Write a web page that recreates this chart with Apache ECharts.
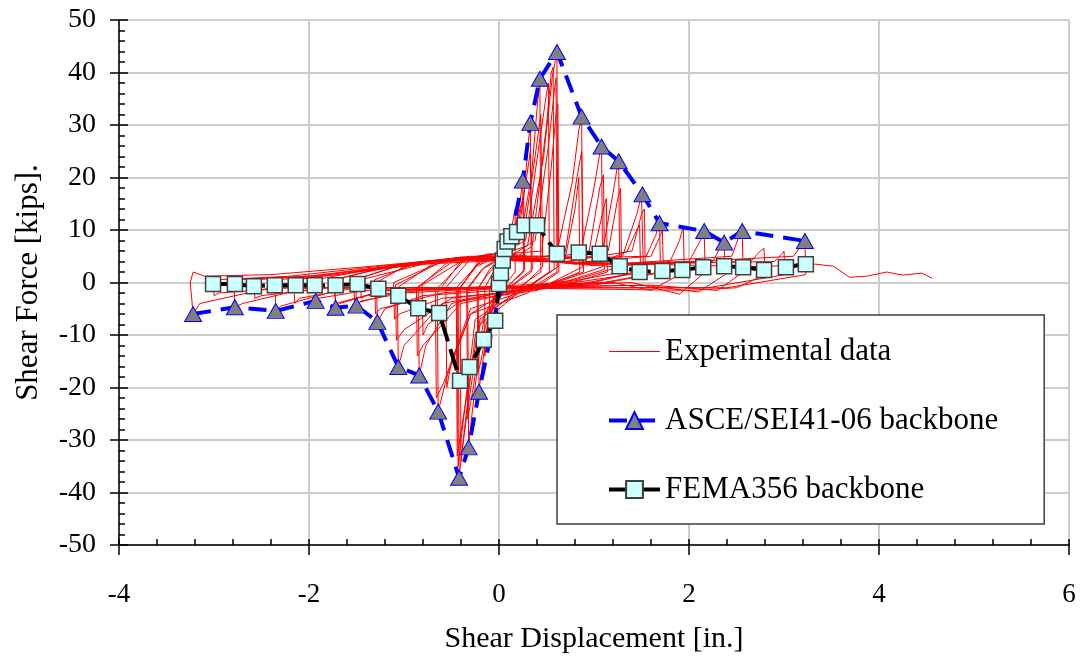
<!DOCTYPE html>
<html>
<head>
<meta charset="utf-8">
<title>Shear force vs shear displacement</title>
<script src="https://cdn.jsdelivr.net/npm/echarts/dist/echarts.min.js"></script>
<style>
html, body { margin: 0; padding: 0; background: #fff; }
#chart { width: 1082px; height: 659px; }
</style>
</head>
<body>
<div id="chart"></div>
<script>
// x ticks / y ticks
var xTicks = [-4, -2, 0, 2, 4, 6];
var yTicks = [-50, -40, -30, -20, -10, 0, 10, 20, 30, 40, 50];

// ASCE/SEI41-06 backbone (triangles)
var asceX = [-3.22, -2.78, -2.35, -1.93, -1.72, -1.50, -1.28, -1.06, -0.84, -0.64, -0.42, -0.32, -0.21,
	0.25, 0.33, 0.43, 0.61, 0.87, 1.08, 1.26, 1.51, 1.69, 2.16, 2.37, 2.56, 3.22];
var asceY = [-6.0, -4.7, -5.4, -3.5, -4.8, -4.4, -7.5, -16.1, -17.7, -24.6, -37.2, -31.4, -20.8,
	19.4, 30.4, 38.8, 43.9, 31.6, 25.9, 23.1, 16.8, 11.3, 9.8, 7.6, 9.8, 7.9];

// FEMA356 backbone (squares)
var femaX = [-3.01, -2.78, -2.58, -2.36, -2.14, -1.94, -1.72, -1.49, -1.27, -1.06, -0.85, -0.63, -0.41, -0.31, -0.16, -0.04,
	0.0, 0.02, 0.04, 0.06, 0.09, 0.13, 0.19, 0.27, 0.40, 0.61, 0.84, 1.06, 1.27, 1.48, 1.72, 1.93, 2.15, 2.37, 2.57, 2.79, 3.02, 3.23];
var femaY = [-0.3, -0.3, -0.7, -0.5, -0.5, -0.5, -0.5, -0.3, -1.2, -2.5, -4.9, -5.8, -18.7, -16.1, -10.9, -7.3,
	-0.3, 1.8, 4.2, 6.4, 7.8, 8.8, 9.6, 10.9, 10.9, 5.5, 5.7, 5.5, 3.1, 2.0, 2.2, 2.4, 2.9, 3.1, 2.9, 2.4, 2.9, 3.5];

// experimental hysteresis, one line per cycle
var experimental = [
	[0, 0], [0.04, 3], [0.08, 6], [0.1, 8], [0.1, 1.5], [0.03, -0.5], [-0.04, -2.5], [-0.08, -6], [-0.1, -9], [-0.1, -1], [-0.04, 1.5], [0.02, 3],
	[0.08, 6], [0.14, 11], [0.17, 14], [0.17, 2], [0.06, -0.5], [-0.06, -4], [-0.12, -10], [-0.15, -14], [-0.15, -1], [-0.06, 2], [0.03, 3.5],
	[0.12, 7], [0.2, 13], [0.24, 18], [0.25, 19.4], [0.26, 2], [0.1, -0.5], [-0.05, -3], [-0.14, -11], [-0.2, -19], [-0.21, -20.8], [-0.22, -1], [-0.1, 2], [0.02, 4],
	[0.14, 8], [0.22, 14], [0.26, 16.5], [0.27, 2.5], [0.08, -1], [-0.1, -6], [-0.19, -15], [-0.22, -17], [-0.23, -1.5], [-0.1, 2.5], [0.03, 4.5],
	[0.17, 8], [0.27, 18], [0.31, 27], [0.33, 30.4], [0.34, 2], [0.15, -0.5], [-0.05, -2.5], [-0.2, -12], [-0.29, -26], [-0.32, -31.4], [-0.33, -1], [-0.18, 2.5], [0.02, 4.5],
	[0.2, 9], [0.29, 20], [0.33, 25], [0.35, 2.5], [0.1, -1], [-0.15, -6], [-0.28, -21], [-0.33, -26], [-0.34, -1.5], [-0.15, 3], [0.04, 5],
	[0.22, 8], [0.34, 20], [0.4, 33], [0.43, 38.8], [0.44, 2], [0.2, -1], [-0.05, -2.5], [-0.25, -10], [-0.37, -29], [-0.42, -37.2], [-0.43, -1.5], [-0.25, 3], [0, 5],
	[0.26, 9], [0.38, 24], [0.44, 32], [0.46, 3], [0.2, -1.5], [-0.2, -7], [-0.37, -25], [-0.44, -33], [-0.45, -1], [-0.22, 3.5], [0.02, 5.5],
	[0.28, 8], [0.42, 26], [0.5, 36], [0.52, 38], [0.53, 2], [0.2, -2], [-0.2, -8], [-0.36, -28], [-0.4, -34], [-0.41, -1], [-0.2, 4], [0.05, 5.5],
	[0.3, 7], [0.47, 24], [0.56, 39], [0.61, 43.9], [0.62, 3], [0.3, -1], [0, -2.5], [-0.3, -6], [-0.55, -18], [-0.64, -24.6], [-0.65, -2], [-0.4, 4], [-0.1, 5.5], [0.12, 5],
	[0.38, 8], [0.52, 26], [0.58, 36], [0.6, 39], [0.61, 2], [0.3, -1.5], [-0.3, -5], [-0.58, -19], [-0.66, -22], [-0.67, -1.5], [-0.35, 4.5], [0, 5.5], [0.2, 5],
	[0.35, 7], [0.5, 30], [0.55, 40], [0.57, 41], [0.58, 2.5], [0.25, -1.5], [-0.25, -7], [-0.4, -30], [-0.43, -35], [-0.44, -2], [-0.2, 4.5], [0.1, 5.5],
	[0.45, 6], [0.55, 22], [0.6, 32], [0.62, 34], [0.63, 2], [0.3, -2], [-0.3, -6], [-0.5, -15], [-0.55, -20], [-0.56, -1], [-0.3, 4.5], [0.1, 5],
	[0.6, 5], [0.77, 19], [0.84, 29], [0.87, 31.6], [0.88, 3], [0.5, -0.5], [0, -2], [-0.5, -4], [-0.77, -12], [-0.84, -17.7], [-0.85, -1], [-0.5, 4.5], [0, 5.5], [0.4, 4.5],
	[0.7, 6], [0.82, 20], [0.87, 25], [0.89, 2], [0.4, -1], [-0.4, -4], [-0.8, -12], [-0.86, -14], [-0.87, -1], [-0.45, 4.5], [0.1, 5.5], [0.5, 4.5],
	[0.7, 5], [0.8, 14], [0.84, 20], [0.85, 2], [0.4, -1.5], [-0.4, -3.5], [-0.75, -8], [-0.8, -10], [-0.81, -0.5], [-0.4, 4], [0.2, 5],
	[0.85, 5], [1.0, 18], [1.06, 24.5], [1.08, 25.9], [1.09, 3], [0.6, 0], [0, -2], [-0.6, -4], [-1.0, -12], [-1.06, -16.1], [-1.07, -1], [-0.7, 3.5], [-0.2, 5], [0.5, 4.5],
	[0.95, 6], [1.06, 18], [1.1, 20.5], [1.11, 2.5], [0.5, -1], [-0.5, -3], [-1.0, -9], [-1.08, -11], [-1.09, -0.5], [-0.6, 4], [0, 5], [0.6, 4],
	[1.0, 6], [1.1, 14], [1.13, 16], [1.14, 2], [0.6, -1], [-0.6, -3], [-1.05, -6], [-1.1, -7], [-1.11, 0], [-0.6, 4], [0.3, 4.5],
	[1.08, 5], [1.2, 17], [1.25, 22.5], [1.26, 23.1], [1.27, 3], [0.8, 0.5], [0, -1.5], [-0.8, -2.5], [-1.2, -5], [-1.28, -7.5], [-1.29, 0], [-1.0, 3], [-0.4, 4.8], [0.6, 4.2],
	[1.15, 6], [1.25, 16], [1.28, 18], [1.29, 2], [0.7, 0], [-0.6, -2], [-1.25, -5], [-1.3, -6], [-1.31, 0.5], [-0.9, 3.5], [0, 5], [0.8, 3.5],
	[1.3, 5], [1.45, 13], [1.5, 16.5], [1.51, 16.8], [1.52, 2.5], [1.0, 0], [0, -1], [-1.0, -2], [-1.45, -3.5], [-1.5, -4.4], [-1.51, 0.5], [-1.1, 3], [-0.4, 4.8], [0.7, 4],
	[1.4, 6], [1.5, 13], [1.53, 14], [1.54, 2], [0.8, 0], [-1.0, -1.5], [-1.52, -4], [-1.53, 0.5], [-1.0, 3.5], [0, 5], [1.0, 3.2],
	[1.35, 6], [1.45, 10], [1.48, 11], [1.49, 2], [0.8, -0.5], [-0.8, -1.5], [-1.4, -2.5], [-1.45, -3], [-1.46, 0.5], [-0.8, 3.5], [0.4, 4.5],
	[1.55, 5], [1.65, 9], [1.69, 11.3], [1.7, 2], [1.1, 0], [0, -1], [-1.2, -1.5], [-1.68, -4], [-1.72, -4.8], [-1.73, 0.5], [-1.4, 2], [-0.9, 3.8], [-0.3, 5], [0.8, 3.8],
	[1.6, 5], [1.7, 9], [1.72, 10], [1.73, 2], [1.0, -0.5], [-1.2, -1.5], [-1.72, -4], [-1.74, 0.5], [-1.3, 2.5], [0, 5], [1.2, 3],
	[1.8, 4], [1.9, 8], [1.94, 10.7], [1.95, 2], [1.6, -1.5], [1.2, 0], [0, -1], [-1.4, -1.5], [-1.9, -3], [-1.93, -3.5], [-1.94, 0.5], [-1.5, 2], [-0.8, 4], [0, 5], [1, 3.5],
	[2.0, 4], [2.12, 8], [2.16, 9.8], [2.17, 2], [1.9, -2.2], [1.4, 0], [0, -1], [-1.5, -1], [-2.1, -3], [-2.15, -4], [-2.16, 0.5], [-1.6, 1.8], [-1.0, 3.5], [-0.4, 4.8], [1.1, 3.5],
	[2.25, 4], [2.34, 7], [2.37, 7.6], [2.38, 1.5], [2.1, -1.8], [1.5, -0.5], [0, -1], [-1.6, -1], [-2.3, -4.5], [-2.35, -5.4], [-2.36, 0.5], [-1.7, 1.5], [-1.0, 3.2], [-0.3, 4.8], [1.2, 3.5],
	[2.45, 5], [2.53, 9], [2.56, 9.8], [2.57, 2], [2.3, -1.5], [1.6, -0.5], [0, -1], [-1.8, -1], [-2.5, -2.5], [-2.57, -3], [-2.58, 0.5], [-1.8, 1.5], [-1.1, 3.2], [-0.4, 4.6], [1.3, 3.5],
	[2.65, 4], [2.75, 6], [2.79, 6.5], [2.8, 1.5], [2.5, -1], [2.0, -1.5], [0, -1], [-2.0, -1], [-2.7, -4], [-2.78, -4.7], [-2.79, 0.5], [-2.0, 1.2], [-1.2, 3], [-0.5, 4.5], [1.4, 3.5],
	[2.9, 4], [2.98, 5.5], [3.0, 6], [3.01, 1.5], [2.2, -1], [0, -1], [-2.2, -1], [-2.95, -2], [-3.0, -2.5], [-3.01, 0.5], [-2.2, 1.2], [-1.3, 3], [-0.5, 4.5], [1.5, 3.5],
	[3.1, 5], [3.2, 7.5], [3.22, 7.9], [3.23, 1.5], [2.4, -1], [0, -1], [-2.4, -1], [-3.15, -4], [-3.22, -6], [-3.25, 0], [-3.22, 2], [-3.1, 1.2], [-2.4, 1.5], [-1.4, 3], [-0.5, 4.5], [1.5, 3.5], [2.8, 3], [3.15, 3.5],
	[3.25, 3.2], [3.33, 3.5], [3.52, 3.1], [3.69, 1.0], [3.87, 1.2], [4.08, 2.0], [4.25, 1.4], [4.45, 1.8], [4.56, 0.8]
];

var serif = 'Liberation Serif';

var myChart = echarts.init(document.getElementById('chart'));

var option = {
	animation: false,
	backgroundColor: '#ffffff',
	grid: {
		left: 119,
		right: 13,
		top: 20,
		bottom: 113
	},
	legend: {
		orient: 'vertical',
		left: 557,
		top: 315,
		padding: [21, 46, 19, 50],
		itemGap: 38,
		itemWidth: 51,
		itemHeight: 21,
		backgroundColor: '#ffffff',
		borderColor: '#404040',
		borderWidth: 1.5,
		textStyle: {
			fontFamily: serif,
			fontSize: 31,
			color: '#000'
		},
		data: [
			{ name: 'Experimental data', icon: 'path://M0,0h60v1h-60z' },
			{ name: 'ASCE/SEI41-06 backbone', lineStyle: { width: 4 } },
			{ name: 'FEMA356 backbone', lineStyle: { width: 4 } }
		]
	},
	xAxis: [
		{
			type: 'value',
			min: xTicks[0],
			max: xTicks[xTicks.length - 1],
			interval: 2,
			name: 'Shear Displacement [in.]',
			nameLocation: 'middle',
			nameGap: 79,
			nameTextStyle: { fontFamily: serif, fontSize: 30, color: '#000' },
			axisLine: { onZero: false, lineStyle: { color: '#000', width: 1.5 } },
			axisTick: { length: 10, lineStyle: { color: '#000', width: 1.5 } },
			axisLabel: { margin: 36, fontFamily: serif, fontSize: 27, color: '#000' },
			splitLine: { show: true, lineStyle: { color: '#cccccc', width: 2 } }
		},
		{
			// inside ticks + minor ticks
			type: 'value',
			position: 'bottom',
			min: xTicks[0],
			max: xTicks[xTicks.length - 1],
			interval: 2,
			axisLine: { show: false, onZero: false },
			axisTick: { inside: true, length: 6, lineStyle: { color: '#000', width: 1.5 } },
			minorTick: { show: true, splitNumber: 5, length: 6, lineStyle: { color: '#000', width: 1.5 } },
			axisLabel: { show: false },
			splitLine: { show: false }
		}
	],
	yAxis: [
		{
			type: 'value',
			min: yTicks[0],
			max: yTicks[yTicks.length - 1],
			interval: 10,
			name: 'Shear Force [kips].',
			nameLocation: 'middle',
			nameGap: 75,
			nameTextStyle: { fontFamily: serif, fontSize: 31, color: '#000' },
			axisLine: { show: true, onZero: false, lineStyle: { color: '#000', width: 1.5 } },
			axisTick: { show: true, length: 9, lineStyle: { color: '#000', width: 1.5 } },
			axisLabel: { margin: 23, fontFamily: serif, fontSize: 28, color: '#000' },
			splitLine: { show: true, lineStyle: { color: '#cccccc', width: 2 } }
		},
		{
			type: 'value',
			position: 'left',
			min: yTicks[0],
			max: yTicks[yTicks.length - 1],
			interval: 10,
			axisLine: { show: false, onZero: false },
			axisTick: { show: true, inside: true, length: 9, lineStyle: { color: '#000', width: 1.5 } },
			minorTick: { show: true, splitNumber: 5, length: 6, lineStyle: { color: '#000', width: 1.5 } },
			axisLabel: { show: false },
			splitLine: { show: false }
		}
	],
	series: [
		{
			name: 'Experimental data',
			type: 'line',
			data: experimental,
			showSymbol: false,
			symbol: 'none',
			color: '#ff0000',
			lineStyle: { color: '#ff0000', width: 1 },
			z: 1
		},
		{
			name: 'ASCE/SEI41-06 backbone',
			type: 'line',
			data: asceX.map(function(x, i) { return [x, asceY[i]]; }),
			symbol: 'triangle',
			symbolSize: [17, 15],
			color: '#0000ff',
			itemStyle: { color: '#808080', borderColor: '#0000ff', borderWidth: 1 },
			lineStyle: { color: '#0000ff', width: 4, type: [18, 10] },
			z: 3
		},
		{
			name: 'FEMA356 backbone',
			type: 'line',
			data: femaX.map(function(x, i) { return [x, femaY[i]]; }),
			symbol: 'rect',
			symbolSize: 15,
			color: '#000000',
			itemStyle: { color: '#ccffff', borderColor: '#404040', borderWidth: 1.5 },
			lineStyle: { color: '#000000', width: 4, type: [22, 8] },
			z: 4
		}
	]
};

myChart.setOption(option);
</script>
</body>
</html>
